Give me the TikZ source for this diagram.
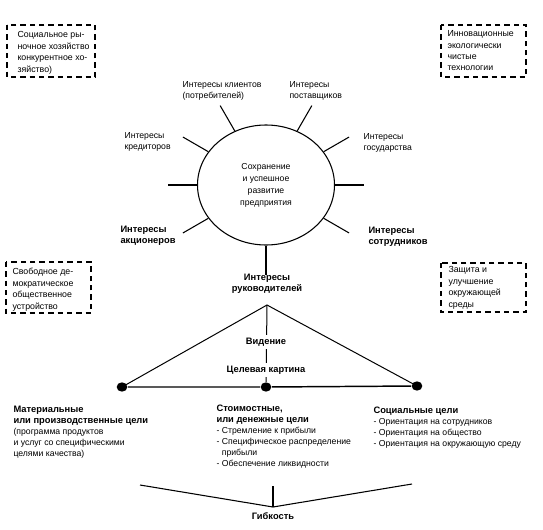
\documentclass[tikz,border=0pt]{standalone}
\usepackage{fontspec}
\setmainfont{Liberation Sans}
\usetikzlibrary{shapes.geometric,calc}

\tikzset{every picture/.style={line width=0.8pt}}
\tikzset{
  txt/.style={anchor=north west, inner sep=0.75pt, align=left, font=\fontsize{6.5}{8.25}\selectfont},
  btxt/.style={txt, font=\fontsize{7}{8.25}\bfseries\selectfont},
  boxtxt/.style={txt, font=\fontsize{6.6}{8.6}\selectfont},
  framebox/.style={dash pattern={on 4pt off 3pt}, line width=1.1pt},
  goaldot/.style={ellipse, fill=black, inner sep=0pt, minimum width=8pt, minimum height=7pt},
}

\begin{document}
\begin{tikzpicture}[x=0.75pt,y=0.75pt,yscale=-1,xscale=1]
\useasboundingbox (0,0) rectangle (543,529);
%Shape: Rectangle, dashed frames
\draw [framebox] (7,25) rectangle (95,77) ;
\draw [framebox] (441,25) rectangle (526,77) ;
\draw [framebox] (6,262) rectangle (91,313) ;
\draw [framebox] (441,263) rectangle (526,312) ;
% Text Node
\node [boxtxt] (market) at (16,30) {Социальное ры-\\ночное хозяйство\\конкурентное хо-\\зяйство)};
% Text Node
\node [boxtxt] (innov) at (446,29) {Инновационные\\экологически\\чистые\\технологии};
% Text Node
\node [boxtxt] (democ) at (11,267) {Свободное де-\\мократическое\\общественное\\устройство};
% Text Node
\node [boxtxt] (envir) at (447,265) {Защита и\\улучшение\\окружающей\\среды};
%Shape: Ellipse
\node [ellipse, draw, minimum width=102.75pt, minimum height=90pt, inner sep=0pt, align=center,
  font=\fontsize{6.5}{9}\selectfont] (firm) at (266,185) {Сохранение\\и успешное\\развитие\\предприятия};
%Straight Lines, spokes
\foreach \a in {0,30,60,120,150,180,210,270,330}
  \draw (firm.\a) -- ($(firm.\a)!-22pt!(firm.center)$) ;
% Text Node
\node [txt] (clients) at (181,80) {Интересы клиентов\\(потребителей)};
% Text Node
\node [txt] (suppl) at (288,80) {Интересы\\поставщиков};
% Text Node
\node [txt] (state) at (362,132) {Интересы\\государства};
% Text Node
\node [txt] (credit) at (123,131) {Интересы\\кредиторов};
% Text Node
\node [btxt] (share) at (119,225) {Интересы\\акционеров};
% Text Node
\node [btxt] (staff) at (367,226) {Интересы\\сотрудников};
% Text Node
\node [btxt, anchor=north, align=center] (mgmt) at (267,273) {Интересы\\руководителей};
%Shape: Triangle
\coordinate (apex) at (267,305) ;
\node [goaldot] (gL) at (122,387) {};
\node [goaldot] (gM) at (266,387) {};
\node [goaldot] (gR) at (417,386) {};
\draw [line width=0.75pt] (gL.center) -- (apex) -- (gR.center) ;
\draw [line width=1.1pt] (gL) -- (gM) -- (gR) ;
\draw [line width=0.75pt] (apex) -- (gM) ;
% Text Node
\node [btxt, anchor=center, fill=white, inner sep=2pt] (vision) at (266,342) {Видение};
% Text Node
\node [btxt, anchor=center, fill=white, inner sep=2pt] (target) at (266,370) {Целевая картина};
% Text Node
\node [txt] (matgoal) at (12,405) {\textbf{\fontsize{7}{8.25}\selectfont Материальные}\\\textbf{\fontsize{7}{8.25}\selectfont или производственные цели}\\(программа продуктов\\и услуг со специфическими\\целями качества)};
% Text Node
\node [txt] (valgoal) at (215,403) {\textbf{\fontsize{7}{8.25}\selectfont Стоимостные,}\\\textbf{\fontsize{7}{8.25}\selectfont или денежные цели}\\- Стремление к прибыли\\- Специфическое распределение\\\phantom{- }прибыли\\- Обеспечение ликвидности};
% Text Node
\node [txt] (socgoal) at (372,405) {\textbf{\fontsize{7}{8.25}\selectfont Социальные цели}\\- Ориентация на сотрудников\\- Ориентация на общество\\- Ориентация на окружающую среду};
%Straight Lines, flexibility
\coordinate (flexL) at (140,485) ;
\coordinate (flexV) at (273,507) ;
\coordinate (flexR) at (412,484) ;
\coordinate (flexT) at (273,486) ;
\draw (flexL) -- (flexV) -- (flexR) ;
\draw (flexT) -- (flexV) ;
% Text Node
\node [btxt, anchor=north] (flex) at (273,511) {Гибкость};
\end{tikzpicture}
\end{document}
